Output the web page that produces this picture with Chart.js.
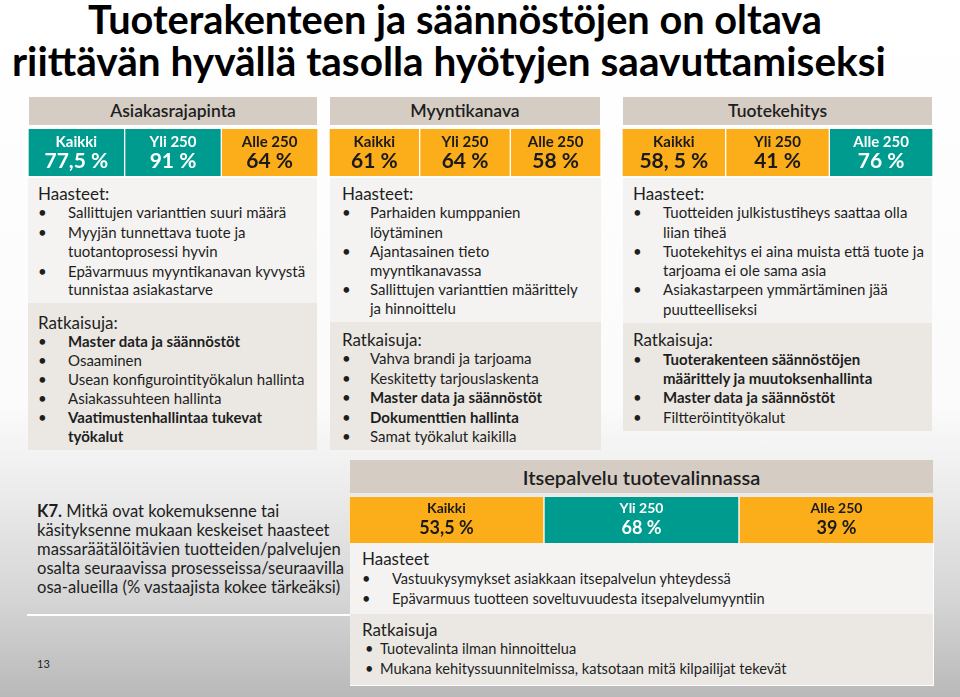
<!DOCTYPE html>
<html lang="fi">
<head>
<meta charset="utf-8">
<title>Tuoterakenne ja säännöstöt</title>
<script src="https://cdn.jsdelivr.net/npm/chart.js@4.4.1/dist/chart.umd.min.js"></script>
<style>
  html, body { margin: 0; padding: 0; }
  body {
    width: 960px; height: 697px; position: relative; overflow: hidden;
    font-family: Lato, "Open Sans", sans-serif; color: #1e1e1e;
    background: linear-gradient(to bottom, #ffffff 0%, #fbfbfb 58%, #efefef 68%, #d5d5d5 86%, #b9b9b9 100%);
  }
  .title { position: absolute; font-weight: 700; font-size: 41px; line-height: 38px; white-space: nowrap; transform-origin: 0 0; color: #000; }
  .hdr { position: absolute; background: #d5cdc4; text-align: center; font-size: 17.5px; font-weight: 600; color: #1e1e1e; }
  .strip { position: absolute; }
  .sec { position: absolute; background: #f4f3f1; }
  .sec.dark { background: #ebe8e3; }
  .t { position: absolute; white-space: nowrap; font-size: 15px; line-height: 20px; }
  .h { position: absolute; white-space: nowrap; font-size: 17px; line-height: 20px; }
  .q { position: absolute; white-space: nowrap; font-size: 16.6px; line-height: 20px; left: 37px; }
  .b { display: inline-block; }
  .w30 .b { width: 30px; }
  .w28 .b { width: 28px; }
  .w15 .b { width: 15px; }
  b { font-weight: 700; }
</style>
</head>
<body>

<div class="title" id="t1" data-w="734" style="left:88px;top:0px">Tuoterakenteen ja säännöstöjen on oltava</div>
<div class="title" id="t2" data-w="874" style="left:12px;top:42px">riittävän hyvällä tasolla hyötyjen saavuttamiseksi</div>

<!-- Asiakasrajapinta -->
<div class="hdr" style="left:29px;top:97px;width:288px;height:28px;line-height:28px">Asiakasrajapinta</div>
<div class="strip" style="left:28px;top:129px;width:290px;height:47px"><canvas id="s1"></canvas></div>
<div class="sec" style="left:28px;top:178px;width:289px;height:125px"></div>
<div class="sec dark" style="left:28px;top:303px;width:289px;height:147px"></div>
<div class="h" style="left:38px;top:184px">Haasteet:</div>
<div class="w30">
  <div class="t" style="left:38px;top:202px"><span class="b">•</span>Sallittujen varianttien suuri määrä</div>
  <div class="t" style="left:38px;top:222px"><span class="b">•</span>Myyjän tunnettava tuote ja</div>
  <div class="t" style="left:68px;top:241px">tuotantoprosessi hyvin</div>
  <div class="t" style="left:38px;top:261px"><span class="b">•</span>Epävarmuus myyntikanavan kyvystä</div>
  <div class="t" style="left:68px;top:279px">tunnistaa asiakastarve</div>
</div>
<div class="h" style="left:38px;top:313px">Ratkaisuja:</div>
<div class="w30">
  <div class="t" style="left:38px;top:331px"><span class="b">•</span><b>Master data ja säännöstöt</b></div>
  <div class="t" style="left:38px;top:350px"><span class="b">•</span>Osaaminen</div>
  <div class="t" style="left:38px;top:369px"><span class="b">•</span>Usean konfigurointityökalun hallinta</div>
  <div class="t" style="left:38px;top:388px"><span class="b">•</span>Asiakassuhteen hallinta</div>
  <div class="t" style="left:38px;top:407px"><span class="b">•</span><b>Vaatimustenhallintaa tukevat</b></div>
  <div class="t" style="left:68px;top:426px"><b>työkalut</b></div>
</div>

<!-- Myyntikanava -->
<div class="hdr" style="left:330px;top:97px;width:270px;height:28px;line-height:28px">Myyntikanava</div>
<div class="strip" style="left:329px;top:129px;width:272px;height:47px"><canvas id="s2"></canvas></div>
<div class="sec" style="left:330px;top:178px;width:271px;height:144px"></div>
<div class="sec dark" style="left:330px;top:322px;width:271px;height:128px"></div>
<div class="h" style="left:342px;top:184px">Haasteet:</div>
<div class="w28">
  <div class="t" style="left:342px;top:202px"><span class="b">•</span>Parhaiden kumppanien</div>
  <div class="t" style="left:370px;top:222px">löytäminen</div>
  <div class="t" style="left:342px;top:241px"><span class="b">•</span>Ajantasainen tieto</div>
  <div class="t" style="left:370px;top:260px">myyntikanavassa</div>
  <div class="t" style="left:342px;top:279px"><span class="b">•</span>Sallittujen varianttien määrittely</div>
  <div class="t" style="left:370px;top:298px">ja hinnoittelu</div>
</div>
<div class="h" style="left:342px;top:330px">Ratkaisuja:</div>
<div class="w28">
  <div class="t" style="left:342px;top:348px"><span class="b">•</span>Vahva brandi ja tarjoama</div>
  <div class="t" style="left:342px;top:368px"><span class="b">•</span>Keskitetty tarjouslaskenta</div>
  <div class="t" style="left:342px;top:387px"><span class="b">•</span><b>Master data ja säännöstöt</b></div>
  <div class="t" style="left:342px;top:407px"><span class="b">•</span><b>Dokumenttien hallinta</b></div>
  <div class="t" style="left:342px;top:426px"><span class="b">•</span>Samat työkalut kaikilla</div>
</div>

<!-- Tuotekehitys -->
<div class="hdr" style="left:623px;top:97px;width:309px;height:28px;line-height:28px">Tuotekehitys</div>
<div class="strip" style="left:622px;top:129px;width:311px;height:47px"><canvas id="s3"></canvas></div>
<div class="sec" style="left:623px;top:178px;width:309px;height:145px"></div>
<div class="sec dark" style="left:623px;top:323px;width:309px;height:108px"></div>
<div class="h" style="left:633px;top:184px">Haasteet:</div>
<div class="w30">
  <div class="t" style="left:633px;top:202px"><span class="b">•</span>Tuotteiden julkistustiheys saattaa olla</div>
  <div class="t" style="left:663px;top:222px">liian tiheä</div>
  <div class="t" style="left:633px;top:241px"><span class="b">•</span>Tuotekehitys ei aina muista että tuote ja</div>
  <div class="t" style="left:663px;top:260px">tarjoama ei ole sama asia</div>
  <div class="t" style="left:633px;top:279px"><span class="b">•</span>Asiakastarpeen ymmärtäminen jää</div>
  <div class="t" style="left:663px;top:299px">puutteelliseksi</div>
</div>
<div class="h" style="left:633px;top:330px">Ratkaisuja:</div>
<div class="w30">
  <div class="t" style="left:633px;top:349px"><span class="b">•</span><b>Tuoterakenteen säännöstöjen</b></div>
  <div class="t" style="left:663px;top:368px"><b>määrittely ja muutoksenhallinta</b></div>
  <div class="t" style="left:633px;top:387px"><span class="b">•</span><b>Master data ja säännöstöt</b></div>
  <div class="t" style="left:633px;top:407px"><span class="b">•</span>Filtteröintityökalut</div>
</div>

<!-- Question text -->
<div class="q" style="top:501px"><b>K7.</b> Mitkä ovat kokemuksenne tai</div>
<div class="q" style="top:520px">käsityksenne mukaan keskeiset haasteet</div>
<div class="q" style="top:539px">massaräätälöitävien tuotteiden/palvelujen</div>
<div class="q" style="top:558px">osalta seuraavissa prosesseissa/seuraavilla</div>
<div class="q" style="top:577px">osa-alueilla (% vastaajista kokee tärkeäksi)</div>
<div style="position:absolute;left:27px;top:614px;width:330px;height:2px;background:#fff"></div>
<div style="position:absolute;left:37px;top:657px;font-size:11px;line-height:14px">13</div>

<!-- Itsepalvelu -->
<div class="hdr" style="left:350px;top:460px;width:583px;height:33px;line-height:35px;font-size:20px">Itsepalvelu tuotevalinnassa</div>
<div class="strip" style="left:349px;top:497px;width:585px;height:46px"><canvas id="s4"></canvas></div>
<div class="sec" style="left:350px;top:543px;width:583px;height:71px;border-right:1px solid #fff"></div>
<div class="sec dark" style="left:350px;top:614px;width:583px;height:71px;border-right:1px solid #fff;border-bottom:1px solid #fff"></div>
<div class="h" style="left:362px;top:549px">Haasteet</div>
<div class="w30">
  <div class="t" style="left:362px;top:569px;font-size:14.6px"><span class="b">•</span>Vastuukysymykset asiakkaan itsepalvelun yhteydessä</div>
  <div class="t" style="left:362px;top:589px;font-size:14.6px"><span class="b">•</span>Epävarmuus tuotteen soveltuvuudesta itsepalvelumyyntiin</div>
</div>
<div class="h" style="left:362px;top:620px">Ratkaisuja</div>
<div class="w15">
  <div class="t" style="left:365px;top:639px;font-size:14.6px"><span class="b">•</span>Tuotevalinta ilman hinnoittelua</div>
  <div class="t" style="left:365px;top:659px;font-size:14.6px"><span class="b">•</span>Mukana kehityssuunnitelmissa, katsotaan mitä kilpailijat tekevät</div>
</div>

<script>
  // Vastaajaryhmät ja osuudet (% vastaajista kokee tärkeäksi)
  const groups = ["Kaikki", "Yli 250", "Alle 250"];
  const asiakasrajapinta = [77.5, 91, 64];
  const myyntikanava = [61, 64, 58];
  const tuotekehitys = [58.5, 41, 76];
  const itsepalvelu = [53.5, 68, 39];
  const asiakasrajapintaText = ["77,5 %", "91 %", "64 %"];
  const myyntikanavaText = ["61 %", "64 %", "58 %"];
  const tuotekehitysText = ["58, 5 %", "41 %", "76 %"];
  const itsepalveluText = ["53,5 %", "68 %", "39 %"];

  const HIGH = 65;
  const TEAL = "#009b8f";
  const ORANGE = "#fbad1a";

  // Otsikkorivit leveyteen
  document.querySelectorAll(".title").forEach((el) => {
    const target = +el.dataset.w;
    el.style.transform = "scaleX(" + (target / el.offsetWidth) + ")";
  });

  const cellText = {
    id: "cellText",
    afterDatasetsDraw(chart, args, o) {
      const { ctx, chartArea } = chart;
      const h = chartArea.bottom - chartArea.top;
      chart.getDatasetMeta(0).data.forEach((bar, i) => {
        ctx.save();
        ctx.fillStyle = o.values[i] >= HIGH ? "#ffffff" : "#1a1a1a";
        ctx.textAlign = "center";
        ctx.textBaseline = "middle";
        ctx.font = "bold " + o.labelSize + "px Lato";
        ctx.fillText(chart.data.labels[i], bar.x, chartArea.top + h * o.labelY);
        ctx.font = "bold " + o.valueSize + "px Lato";
        ctx.fillText(o.texts[i], bar.x, chartArea.top + h * o.valueY);
        ctx.restore();
      });
    },
  };

  function makeStrip(id, values, texts, sizes) {
    new Chart(document.getElementById(id), {
      type: "bar",
      data: {
        labels: groups,
        datasets: [{
          data: values.map(() => [0, 1]),
          backgroundColor: values.map((v) => (v >= HIGH ? TEAL : ORANGE)),
          borderColor: "#ffffff",
          borderWidth: { left: 1, right: 1, top: 0, bottom: 0 },
          borderSkipped: false,
          categoryPercentage: 1,
          barPercentage: 1,
        }],
      },
      options: {
        responsive: true,
        maintainAspectRatio: false,
        animation: false,
        events: [],
        layout: { padding: 0 },
        plugins: {
          legend: { display: false },
          tooltip: { enabled: false },
          cellText: Object.assign({ values, texts }, sizes),
        },
        scales: {
          x: { display: false },
          y: { display: false, min: 0, max: 1 },
        },
      },
      plugins: [cellText],
    });
  }

  const big = { labelSize: 15, valueSize: 21, labelY: 0.28, valueY: 0.68 };
  makeStrip("s1", asiakasrajapinta, asiakasrajapintaText, big);
  makeStrip("s2", myyntikanava, myyntikanavaText, big);
  makeStrip("s3", tuotekehitys, tuotekehitysText, big);
  makeStrip("s4", itsepalvelu, itsepalveluText, { labelSize: 14, valueSize: 18, labelY: 0.25, valueY: 0.68 });
</script>
</body>
</html>
